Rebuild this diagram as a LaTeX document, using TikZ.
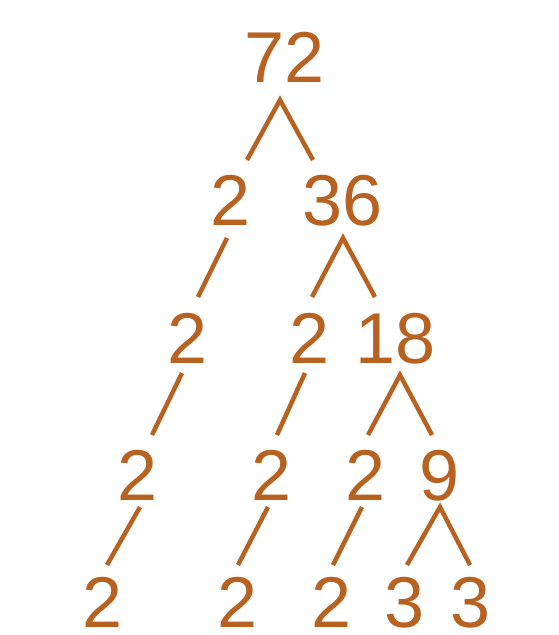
\documentclass[tikz,border=0pt]{standalone}
\usepackage{fontspec}
\setmainfont{Liberation Sans}
\definecolor{rust}{RGB}{184,98,34}
\begin{document}
\begin{tikzpicture}[x=1pt,y=-1pt,
  num/.style={text=rust, font=\fontsize{72}{72}\selectfont, inner sep=0pt, anchor=base},
  ln/.style={draw=rust, line width=4.5pt, line join=miter}]
\useasboundingbox[fill=white] (0,0) rectangle (559,635);
% row 1
\node[num] (a) at (284.5,82) {72};
% row 2
\node[num] (b1) at (231,225) {2};
\node[num] (b2) at (343,225) {36};
% row 3
\node[num] (c1) at (188,363) {2};
\node[num] (c2) at (310,363) {2};
\node[num] (c3) at (396,363) {18};
% row 4
\node[num] (d1) at (138,500) {2};
\node[num] (d2) at (272,500) {2};
\node[num] (d3) at (366,500) {2};
\node[num] (d4) at (440,500) {9};
% row 5
\node[num] (e1) at (103,627) {2};
\node[num] (e2) at (238,627) {2};
\node[num] (e3) at (332,627) {2};
\node[num] (e4) at (405,627) {3};
\node[num] (e5) at (471,627) {3};
% branches
\draw[ln] (247,160) -- (280,100) -- (313,160);
\draw[ln] (198,297) -- (227,238);
\draw[ln] (312,297) -- (343,238) -- (375,297);
\draw[ln] (152,435) -- (182,373);
\draw[ln] (277,435) -- (305,373);
\draw[ln] (368,435) -- (400,375) -- (432,435);
\draw[ln] (107,565) -- (140,507);
\draw[ln] (238,565) -- (268,507);
\draw[ln] (333,565) -- (362,507);
\draw[ln] (407,565) -- (440,507) -- (470,565);
\end{tikzpicture}
\end{document}
